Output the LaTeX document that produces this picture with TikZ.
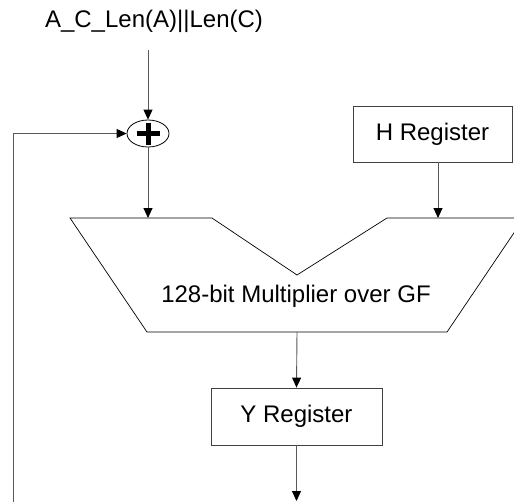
\documentclass[tikz,border=0pt]{standalone}
\usepackage{fontspec}
\setmainfont{Liberation Sans}
\usetikzlibrary{arrows.meta,shapes.geometric,calc}
\begin{document}
\begin{tikzpicture}[x=1pt,y=-1pt,
  conn/.style={draw=black!65, line width=0.9pt, -{Triangle[length=10pt,width=9pt,fill=black,color=black]}},
  regbox/.style={draw=black!75, line width=0.8pt, rectangle, inner sep=0pt, font=\fontsize{24}{28}\selectfont},
  lbl/.style={font=\fontsize{24}{28}\selectfont, inner sep=0pt}]
\clip (0,0) rectangle (514,501);
\fill[white] (0,0) rectangle (514,501);
% title
\node[lbl] (title) at (154,21) {A\_C\_Len(A)||Len(C)};
\coordinate (tin) at (148,50);
% xor
\node[draw=black, line width=0.8pt, ellipse, minimum width=42pt, minimum height=27pt, inner sep=0pt] (xor) at (148,133.5) {};
\draw[line width=5pt] ($(xor.center)+(-11.5,0)$) -- ($(xor.center)+(11.5,0)$);
\draw[line width=5pt] ($(xor.center)+(0,-11)$) -- ($(xor.center)+(0,11)$);
% H register
\node[regbox, minimum width=159pt, minimum height=56pt] (H) at (432.5,134) {H Register};
% multiplier
\draw[black, line width=0.7pt] (70,218) -- (212,218) -- (297,275) -- (387,218) -- (524,218) -- (447,332) -- (147,332) -- cycle;
\node[lbl] (mult) at (296,296) {128-bit Multiplier over GF};
\coordinate (mA) at (148,218);
\coordinate (mB) at (438,218);
\coordinate (mO) at (297,332);
% Y register
\node[regbox, minimum width=171pt, minimum height=57pt] (Y) at (296.5,416.5) {Y Register};
\coordinate (yout) at (296.5,501);
% feedback
\coordinate (fb0) at (13,505);
\coordinate (fb1) at (13,133.5);
% connectors
\draw[conn] (tin) -- (xor.north);
\draw[conn] (fb0) -- (fb1) -- (xor.west);
\draw[conn] (xor.south) -- (mA);
\draw[conn] (H.south -| mB) -- (mB);
\draw[conn] (mO) -- (Y.north);
\draw[conn] (Y.south) -- (yout);
\end{tikzpicture}
\end{document}
